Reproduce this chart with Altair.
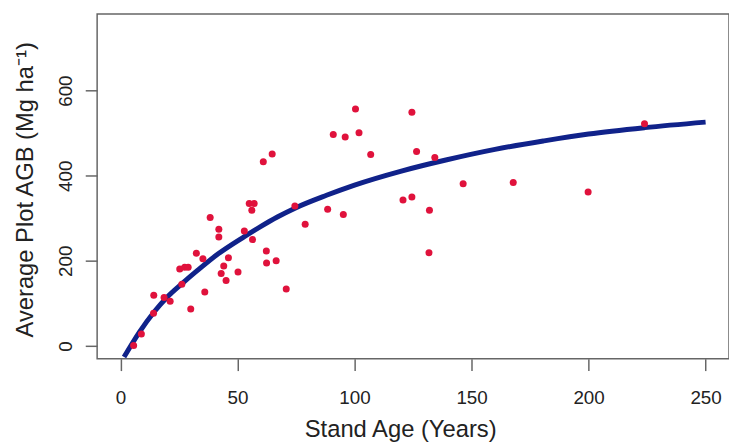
import altair as alt
import pandas as pd

# Observed plots: stand age (years) and average plot AGB (Mg/ha)
age = [5.6, 8.9, 14.1, 14.2, 18.6, 21.2, 26.2, 25.3, 27.4, 28.9,
       30.0, 32.4, 35.2, 36.0, 38.3, 42.0, 42.0, 46.1, 44.1, 43.0,
       45.1, 50.2, 52.9, 56.4, 55.0, 57.1, 56.1, 62.3, 62.4, 66.5,
       70.8, 61.0, 64.8, 74.5, 78.9, 88.5, 95.2, 90.9, 96.0, 100.4,
       101.9, 106.9, 124.5, 126.5, 134.3, 120.7, 124.5, 132.0, 131.8, 146.4,
       167.8, 199.8, 223.9]
agb = [1, 28, 77, 119, 114, 105, 145, 181, 185, 185,
       87, 218, 205, 127, 302, 274, 256, 207, 188, 170,
       154, 174, 270, 250, 335, 335, 319, 223, 195, 200,
       134, 433, 451, 329, 286, 321, 309, 497, 491, 557,
       501, 450, 549, 457, 443, 343, 350, 319, 219, 381,
       384, 362, 522]

# Fitted curve
curve_age = [1.5, 8, 14.5, 20, 26.4, 33, 41.6, 52.9, 60, 67,
             75, 88, 100, 120, 139, 160, 181, 200, 224, 250]
curve_agb = [-26, 32, 81, 115, 147, 178, 216, 257, 281, 303,
             325, 354, 378, 411, 437, 462, 482, 498, 513, 526]

x_ticks = [0, 50, 100, 150, 200, 250]
y_ticks = [0, 200, 400, 600]

pts = pd.DataFrame({"age": age, "agb": agb})
crv = pd.DataFrame({"age": curve_age, "agb": curve_agb})

FONT = "Liberation Sans"

xscale = alt.Scale(domain=[-10, 260], nice=False, zero=False)
yscale = alt.Scale(domain=[-30, 780], nice=False, zero=False)

xaxis = alt.Axis(values=x_ticks, title="Stand Age (Years)", grid=False, domain=False,
                 tickSize=12, tickColor="#666666", tickWidth=1.5,
                 labelFontSize=19, labelFont=FONT, labelColor="#222222",
                 labelPadding=18, labelFlush=False,
                 titleFontSize=24, titleFont=FONT, titleColor="#222222",
                 titleFontWeight="normal", titleX=306, titleY=79,
                 titleAlign="center", titleBaseline="alphabetic")
yaxis = alt.Axis(values=y_ticks, title="Average Plot AGB (Mg ha\u207b\u00b9)", grid=False,
                 domain=False, tickSize=12, tickColor="#666666", tickWidth=1.5,
                 labelFontSize=19, labelFont=FONT, labelColor="#222222",
                 labelAngle=270, labelAlign="center", labelBaseline="alphabetic",
                 labelPadding=14, labelFlush=False,
                 titleFontSize=24, titleFont=FONT, titleColor="#222222",
                 titleFontWeight="normal", titleAngle=270, titleX=-65, titleY=177,
                 titleAlign="center", titleBaseline="alphabetic")

line = alt.Chart(crv).mark_line(color="#10228a", strokeWidth=5, interpolate="monotone").encode(
    x=alt.X("age:Q", scale=xscale, axis=xaxis),
    y=alt.Y("agb:Q", scale=yscale, axis=yaxis),
)
points = alt.Chart(pts).mark_point(filled=True, shape="circle", size=50,
                                   color="#e0123c", opacity=1).encode(
    x=alt.X("age:Q", scale=xscale),
    y=alt.Y("agb:Q", scale=yscale),
)

chart = (line + points).properties(
    width=638, height=348,
    autosize=alt.AutoSizeParams(type="none"),
    padding={"left": 90, "top": 4, "right": 0, "bottom": 82},
    background="white",
).configure_view(stroke="#666666", strokeWidth=1.5)

chart.save("out.html", embed_options={"renderer": "svg", "actions": False})
